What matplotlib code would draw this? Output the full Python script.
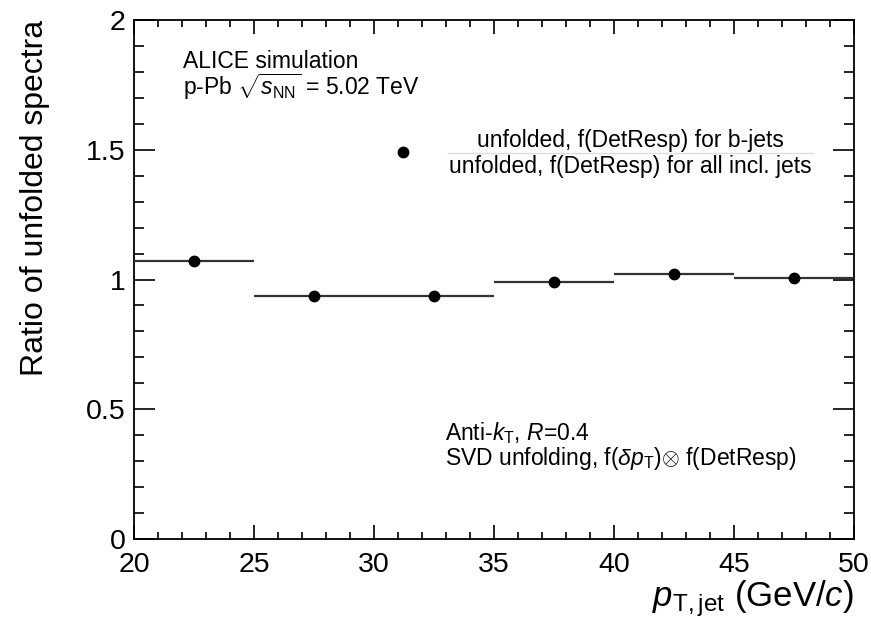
import matplotlib
matplotlib.use("Agg")
import matplotlib.pyplot as plt
from matplotlib.ticker import MultipleLocator
from matplotlib.lines import Line2D

plt.rcParams['font.family'] = ['Liberation Sans', 'DejaVu Sans']
plt.rcParams['mathtext.fontset'] = 'custom'
plt.rcParams['mathtext.rm'] = 'Liberation Sans'
plt.rcParams['mathtext.it'] = 'Liberation Sans:italic'
plt.rcParams['mathtext.bf'] = 'Liberation Sans:bold'

# Data
bin_centers = [22.5, 27.5, 32.5, 37.5, 42.5, 47.5]
bin_halfwidth = [2.5, 2.5, 2.5, 2.5, 2.5, 2.5]
ratio = [1.071, 0.936, 0.938, 0.990, 1.021, 1.007]
x_range = [20, 50]
y_range = [0, 2]
y_ticks = [0, 0.5, 1, 1.5, 2]
y_ticklabels = ['0', '0.5', '1', '1.5', '2']

W, H = 871, 626
fig = plt.figure(figsize=(W/100, H/100), dpi=100)
ax = fig.add_axes([134/W, 1-539/H, (854-134)/W, (539-20)/H])

ax.errorbar(bin_centers, ratio, xerr=bin_halfwidth, fmt='o', color='black',
            ecolor='#333333', elinewidth=1.6, markersize=7.5, capsize=0, zorder=3)

ax.set_xlim(*x_range)
ax.set_ylim(*y_range)
ax.xaxis.set_major_locator(MultipleLocator(5))
ax.xaxis.set_minor_locator(MultipleLocator(1))
ax.yaxis.set_minor_locator(MultipleLocator(0.1))
ax.set_yticks(y_ticks)
ax.set_yticklabels(y_ticklabels)
ax.tick_params(axis='both', which='both', direction='in', top=True, right=True,
               labelsize=20.5, width=1.2, colors='black')
ax.tick_params(axis='x', which='major', length=10, pad=9.5)
ax.tick_params(axis='x', which='minor', length=5)
ax.tick_params(axis='y', which='major', length=15, pad=6)
ax.tick_params(axis='y', which='minor', length=7.5)
for s in ax.spines.values():
    s.set_linewidth(1.3)

ax.set_ylabel('Ratio of unfolded spectra', fontsize=23, loc='top')
ax.yaxis.set_label_coords((50-134)/720, 1.0)
ax.set_xlabel(r'$p_{\mathrm{T,jet}}$ (GeV/$c$)', fontsize=25, loc='right')
ax.xaxis.set_label_coords(1.0, (539-578)/519)

fs = 16.5
fig.text(183/W, 1-68/H, 'ALICE simulation', fontsize=fs, va='baseline')
fig.text(183/W, 1-95/H, r'p-Pb $\sqrt{s_{\mathrm{NN}}}$ = 5.02 TeV', fontsize=fs, va='baseline')

# ratio legend
ax.plot([31.2], [1.49], 'o', color='black', markersize=7.5, clip_on=False)
fig.text(630/W, 1-147/H, 'unfolded, f(DetResp) for b-jets', fontsize=fs, ha='center', va='baseline')
fig.text(630/W, 1-173/H, 'unfolded, f(DetResp) for all incl. jets', fontsize=fs, ha='center', va='baseline')
fig.add_artist(Line2D([448/W, 813/W], [1-153/H, 1-153/H], color='#dddddd', lw=1.0,
                      transform=fig.transFigure))

fig.text(445/W, 1-440/H, r'Anti-$k_{\mathrm{T}}$, $R$=0.4', fontsize=fs, va='baseline')
fig.text(445/W, 1-465/H, r'SVD unfolding, f($\delta p_{\mathrm{T}}$)$\otimes$ f(DetResp)', fontsize=fs, va='baseline')

fig.savefig('out.png', dpi=100, facecolor='white')
